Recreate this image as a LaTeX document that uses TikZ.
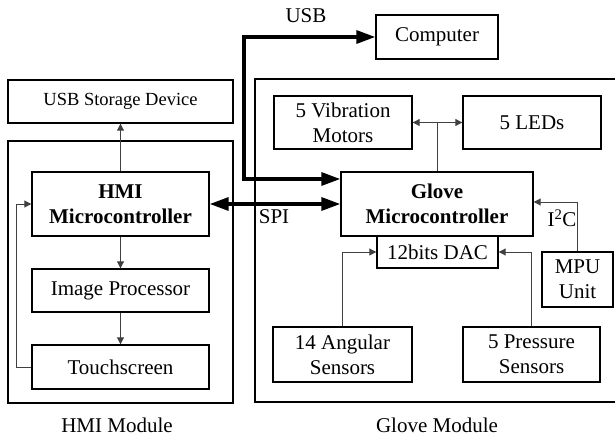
\documentclass[tikz,border=0pt]{standalone}
\usepackage{fontspec}
\setmainfont{LiberationSerif}[Extension=.ttf, UprightFont=*-Regular, BoldFont=*-Bold, ItalicFont=*-Italic, BoldItalicFont=*-BoldItalic]
\usetikzlibrary{arrows.meta}
\begin{document}
\begin{tikzpicture}[x=1pt,y=-1pt,
  txt/.style={font=\fontsize{21}{25}\selectfont},
  blk/.style={draw, line width=1.4pt, inner sep=0pt, align=center, txt},
  frame/.style={draw, line width=1.4pt},
  thin/.style={draw=black!75, line width=1pt},
  tip/.style={-{Triangle[length=7pt,width=7pt]}},
  tips/.style={{Triangle[length=7pt,width=7pt]}-{Triangle[length=7pt,width=7pt]}},
  bus/.style={line width=3.3pt, {Triangle[length=19pt,width=13pt]}-{Triangle[length=19pt,width=13pt]}},
  lbl/.style={inner sep=0pt, txt}]
\useasboundingbox (0,0) rectangle (615,439);

% HMI module
\node[blk, minimum width=225, minimum height=43, font=\fontsize{18.5}{22}\selectfont] (usbdev) at (120.5,101.5) {USB Storage Device};
\node[frame, minimum width=225, minimum height=262] (hmimod) at (120.5,272) {};
\node[blk, minimum width=177, minimum height=64] (hmi) at (120.5,204) {\textbf{HMI}\\\textbf{Microcontroller}};
\node[blk, minimum width=177, minimum height=43] (img) at (120.5,290.5) {Image Processor};
\node[blk, minimum width=177, minimum height=44] (touch) at (120.5,367) {Touchscreen};
\node[lbl] (hmilbl) at (117,425) {HMI Module};

% Glove module
\draw[frame] (615,79) -- (255,79) -- (255,402) -- (615,402);
\node[blk, minimum width=122, minimum height=44] (computer) at (437,37) {Computer};
\node[blk, minimum width=138, minimum height=53] (vib) at (343,122.5) {5 Vibration\\Motors};
\node[blk, minimum width=138, minimum height=53] (leds) at (532,122.5) {5 LEDs};
\node[blk, minimum width=192, minimum height=64] (glove) at (437,204) {\textbf{Glove}\\\textbf{Microcontroller}};
\node[blk, minimum width=121, minimum height=32] (dac) at (437.5,252) {12bits DAC};
\node[blk, minimum width=71, minimum height=55] (mpu) at (577.5,279.5) {MPU\\Unit};
\node[blk, minimum width=139, minimum height=55] (angular) at (342.5,354.5) {14 Angular\\Sensors};
\node[blk, minimum width=137, minimum height=55] (pressure) at (531.5,354.5) {5 Pressure\\Sensors};
\node[lbl] (glovelbl) at (437,425) {Glove Module};

% HMI internal links
\draw[thin,tip] (hmi.north) -- (usbdev.south);
\draw[thin,tip] (hmi.south) -- (img.north);
\draw[thin,tip] (img.south) -- (touch.north);
\draw[thin,tip] (touch.west) -- ++(-15,0) |- (hmi.west);

% USB and SPI buses
\coordinate (usbturn) at (244,37);
\draw[bus] (computer.west) -- (usbturn) |- ([yshift=25pt]glove.west);
\node[lbl] (usblbl) at (306,16) {USB};
\draw[bus] (hmi.east) -- (glove.west);
\node[lbl] (spilbl) at (274,217) {SPI};

% Glove internal links
\draw[thin] (glove.north) -- (glove.north |- vib.east);
\draw[thin,tips] (vib.east) -- (leds.west);
\draw[thin,tip] (mpu.north) |- ([yshift=2pt]glove.east);
\node[lbl] (i2c) at (562,218) {I\textsuperscript{2}C};
\draw[thin,tip] (angular.north) |- (dac.west);
\draw[thin,tip] (pressure.north) |- (dac.east);
\end{tikzpicture}
\end{document}
